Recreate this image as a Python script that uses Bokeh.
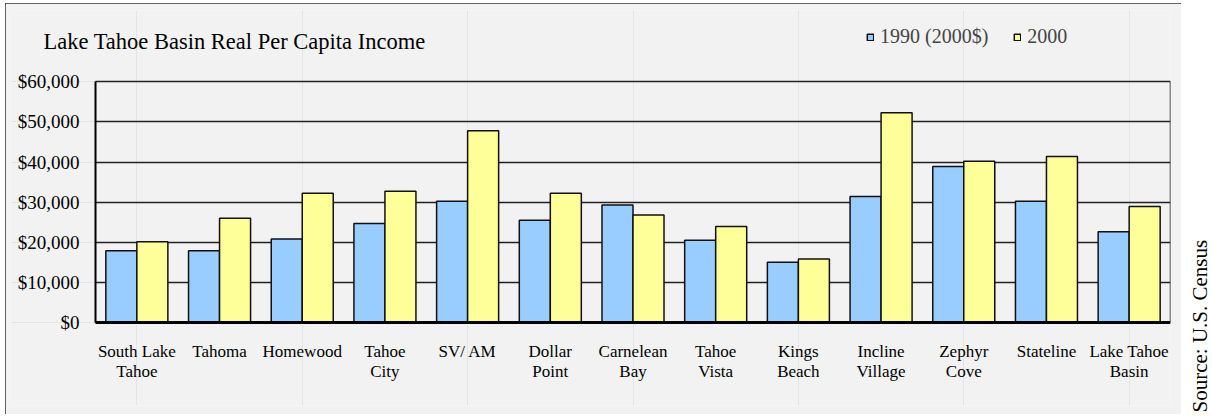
import math
from bokeh.plotting import figure
from bokeh.models import (ColumnDataSource, Range1d, FixedTicker, LinearAxis, Grid,
                          NumeralTickFormatter, Legend, LegendItem, Label, Spacer)
from bokeh.transform import dodge
from bokeh.layouts import row, column
from bokeh.embed import file_html
from bokeh.resources import INLINE

# ---- data ----
categories = ["South Lake Tahoe", "Tahoma", "Homewood", "Tahoe City", "SV/ AM",
              "Dollar Point", "Carnelean Bay", "Tahoe Vista", "Kings Beach",
              "Incline Village", "Zephyr Cove", "Stateline", "Lake Tahoe Basin"]
tick_line1 = ["South Lake", "Tahoma", "Homewood", "Tahoe", "SV/ AM", "Dollar", "Carnelean",
              "Tahoe", "Kings", "Incline", "Zephyr", "Stateline", "Lake Tahoe"]
tick_line2 = ["Tahoe", "", "", "City", "", "Point", "Bay", "Vista", "Beach",
              "Village", "Cove", "", "Basin"]
income_1990 = [17900, 17900, 20800, 24700, 30200, 25500, 29300, 20500, 15000,
               31400, 38900, 30200, 22600]
income_2000 = [20100, 26000, 32200, 32700, 47800, 32200, 26800, 23900, 15800,
               52300, 40200, 41400, 28900]
y_ticks = [0, 10000, 20000, 30000, 40000, 50000, 60000]
series_names = ["1990 (2000$)", "2000"]
series_colors = ["#99ccff", "#ffff99"]
title_text = "Lake Tahoe Basin Real Per Capita Income"
source_text = "Source: U.S. Census"

FONT = "Liberation Serif"
BG = "#f2f2f2"
LINE = "#222222"

n = len(categories)
x_idx = list(range(n))
x_ticks = x_idx
ymax = y_ticks[-1]

source = ColumnDataSource(dict(x=x_idx, cat=categories, v1990=income_1990, v2000=income_2000))

# frame spans the whole grey panel so that title, legend and tick labels live inside it
p = figure(frame_width=1160, frame_height=395,
           min_border_left=5, min_border_right=11, min_border_top=7, min_border_bottom=9,
           x_range=Range1d(-1.528, n - 0.5), y_range=Range1d(-20690, 77770),
           x_axis_location=None, y_axis_location=None, title_location=None,
           output_backend="svg", toolbar_location=None,
           background_fill_color=BG, border_fill_color=BG, outline_line_color=None)

# horizontal grid lines limited to the plotting area
if "cross_bounds" in Grid.properties():
    g = Grid(dimension=1, ticker=FixedTicker(ticks=y_ticks), cross_bounds=(-0.5, n - 0.5),
             grid_line_color=LINE, grid_line_width=1.5)
    p.add_layout(g)
else:
    p.segment(x0=[-0.5] * len(y_ticks), x1=[n - 0.5] * len(y_ticks), y0=y_ticks, y1=y_ticks,
              line_color=LINE, line_width=1.5, level="underlay")

r1 = p.vbar(x=dodge("x", -0.1875), top="v1990", width=0.375,
            source=source, fill_color=series_colors[0], line_color="#111111", line_width=1.5)
r2 = p.vbar(x=dodge("x", 0.1875), top="v2000", width=0.375,
            source=source, fill_color=series_colors[1], line_color="#111111", line_width=1.5)

# y axis fixed at left edge of the plot area
yax = LinearAxis(fixed_location=-0.5, bounds=(0, ymax),
                 ticker=FixedTicker(ticks=y_ticks), formatter=NumeralTickFormatter(format="$0,0"),
                 major_tick_out=0, major_tick_in=0, minor_tick_out=0, minor_tick_in=0,
                 axis_line_width=2, axis_line_color="black",
                 major_label_text_font=FONT, major_label_text_font_size="19px",
                 major_label_text_color="black", major_label_standoff=16)
p.add_layout(yax, "left")

# right border of plot area
rax = LinearAxis(fixed_location=n - 0.5, bounds=(0, ymax),
                 ticker=FixedTicker(ticks=y_ticks),
                 major_tick_out=0, major_tick_in=0, minor_tick_out=0, minor_tick_in=0,
                 axis_line_width=1.5, axis_line_color=LINE,
                 major_label_text_font_size="0px", major_label_text_alpha=0)
p.add_layout(rax, "right")

# x axis (two label lines), fixed at y = 0
xax = LinearAxis(fixed_location=0, ticker=FixedTicker(ticks=x_ticks), bounds=(-0.5, n - 0.5),
                 major_tick_out=0, major_tick_in=0, minor_tick_out=0, minor_tick_in=0,
                 axis_line_width=3, axis_line_color="black",
                 major_label_text_font=FONT, major_label_text_font_size="17px",
                 major_label_text_color="black", major_label_standoff=20,
                 major_label_overrides={i: t for i, t in zip(x_idx, tick_line1)})
p.add_layout(xax, "below")

ax2 = LinearAxis(fixed_location=0, ticker=FixedTicker(ticks=x_ticks), bounds=(-0.5, n - 0.5),
                 axis_line_color=None, major_tick_out=0, major_tick_in=0,
                 minor_tick_out=0, minor_tick_in=0, major_label_standoff=40,
                 major_label_text_font=FONT, major_label_text_font_size="17px",
                 major_label_text_color="black",
                 major_label_overrides={i: t for i, t in zip(x_idx, tick_line2)})
p.add_layout(ax2, "below")

# title and legend inside the frame
p.add_layout(Label(x=-1.129, y=70100, text=title_text, text_font=FONT,
                   text_font_size="22.5px", text_color="black", text_baseline="alphabetic"))

legend = Legend(items=[LegendItem(label=series_names[0], renderers=[r1]),
                       LegendItem(label=series_names[1], renderers=[r2])],
                orientation="horizontal", location=(856, 357),
                glyph_width=8, glyph_height=8, label_standoff=6, spacing=25,
                padding=0, margin=0, border_line_color=None, background_fill_alpha=0,
                label_text_font=FONT, label_text_font_size="20px", label_height=20)
p.add_layout(legend, "center")

# ---- source note at right ----
ps = figure(frame_width=31, frame_height=411, min_border=0,
            x_range=Range1d(0, 31), y_range=Range1d(0, 411),
            x_axis_type=None, y_axis_type=None, title_location=None,
            output_backend="svg", toolbar_location=None,
            background_fill_color="white", border_fill_color="white",
            outline_line_color=None)
ps.add_layout(Label(x=18, y=2, text=source_text, angle=math.pi / 2,
                    text_font=FONT, text_font_size="21px", text_color="black",
                    text_align="left", text_baseline="middle"))

box = column(p, styles={"outline": "2px solid #333333", "outline-offset": "-2px"})
layout = column(Spacer(width=5, height=3),
                row(Spacer(width=5, height=411), box, ps))
open("out.html", "w").write(file_html(layout, INLINE))
